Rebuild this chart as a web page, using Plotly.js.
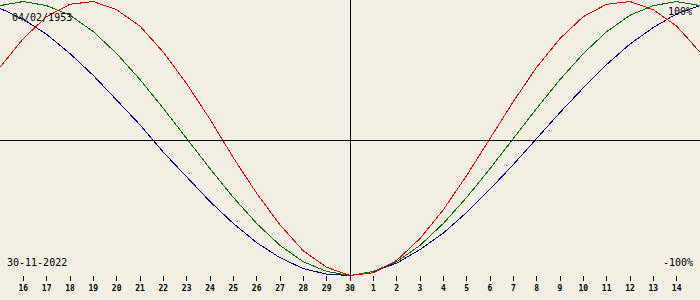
<!DOCTYPE html>
<html><head><meta charset="utf-8">
<script src="https://cdn.plot.ly/plotly-3.0.1.min.js"></script>
<style>html,body{margin:0;padding:0;background:#f3efe4;}
#chart path.js-line, #chart .shapelayer path{shape-rendering:crispEdges;}
</style>
</head><body>
<div id="chart" style="width:700px;height:300px;"></div>
<script>
// day index: -1 = 15th ... 14 = 30th ... 29 = 15th of next month
const dayIndex = [-1,0,1,2,3,4,5,6,7,8,9,10,11,12,13,14,15,16,17,18,19,20,21,22,23,24,25,26,27,28,29];
const tickLabels = ["16","17","18","19","20","21","22","23","24","25","26","27","28","29","30","1","2","3","4","5","6","7","8","9","10","11","12","13","14"];
const tickIndex = [0,1,2,3,4,5,6,7,8,9,10,11,12,13,14,15,16,17,18,19,20,21,22,23,24,25,26,27,28];
const physical = [0.52,0.73,0.89,0.98,1.00,0.94,0.82,0.63,0.40,0.14,-0.14,-0.40,-0.63,-0.82,-0.94,-1.00,-0.98,-0.89,-0.73,-0.52,-0.27,0.00,0.27,0.52,0.73,0.89,0.98,1.00,0.94,0.82,0.63];
const emotional = [0.97,1.00,0.97,0.90,0.78,0.62,0.43,0.22,0.00,-0.22,-0.43,-0.62,-0.78,-0.90,-0.97,-1.00,-0.97,-0.90,-0.78,-0.62,-0.43,-0.22,0.00,0.22,0.43,0.62,0.78,0.90,0.97,1.00,0.97];
const intellectual = [0.95,0.87,0.76,0.62,0.46,0.28,0.10,-0.10,-0.28,-0.46,-0.62,-0.76,-0.87,-0.95,-0.99,-1.00,-0.97,-0.91,-0.81,-0.69,-0.54,-0.37,-0.19,0.00,0.19,0.37,0.54,0.69,0.81,0.91,0.97];
const birthDate = "04/02/1953";
const chartDate = "30-11-2022";
const topLabel = "100%";
const bottomLabel = "-100%";

const mk = (y, c) => ({x: dayIndex, y: y, type: 'scatter', mode: 'lines', line: {color: c, width: 1}, hoverinfo: 'skip'});
const data = [mk(intellectual, '#000088'), mk(emotional, '#007000'), mk(physical, '#dd0000')];

const txt = {family: 'DejaVu Sans Mono', size: 10, color: '#000'};
const layout = {
  width: 700, height: 300,
  margin: {l: 0, r: 0, t: 0, b: 19},
  paper_bgcolor: '#f3efe4', plot_bgcolor: '#f3efe4',
  showlegend: false,
  xaxis: {range: [-1, 29], showgrid: false, zeroline: false, showline: false,
    tickmode: 'array', tickvals: tickIndex, ticktext: tickLabels,
    ticks: 'inside', ticklen: 5, tickwidth: 1, tickcolor: '#000',
    ticklabelstandoff: 1,
    tickfont: {family: 'DejaVu Sans Mono', size: 8, color: '#000', weight: 'bold'}, fixedrange: true},
  yaxis: {range: [-1.04, 1.011], showgrid: false, zeroline: false, showticklabels: false, ticks: '', fixedrange: true},
  shapes: [
    {type: 'line', xref: 'paper', x0: 0, x1: 1, yref: 'paper', y0: 1 - 140/281, y1: 1 - 140/281, line: {color: '#000', width: 1}},
    {type: 'line', xref: 'x', x0: 14, x1: 14, yref: 'paper', y0: 0.017, y1: 1, line: {color: '#000', width: 1}}
  ],
  annotations: [
    {text: birthDate, xref: 'paper', yref: 'paper', x: 10/700, y: 1 - 17/281, xanchor: 'left', yanchor: 'middle', showarrow: false, font: txt},
    {text: chartDate, xref: 'paper', yref: 'paper', x: 5/700, y: 1 - 262/281, xanchor: 'left', yanchor: 'middle', showarrow: false, font: txt},
    {text: topLabel, xref: 'paper', yref: 'paper', x: 694/700, y: 1 - 12/281, xanchor: 'right', yanchor: 'middle', showarrow: false, font: txt},
    {text: bottomLabel, xref: 'paper', yref: 'paper', x: 695/700, y: 1 - 262/281, xanchor: 'right', yanchor: 'middle', showarrow: false, font: txt}
  ]
};
Plotly.newPlot('chart', data, layout, {displayModeBar: false, staticPlot: true});
</script>
</body></html>
